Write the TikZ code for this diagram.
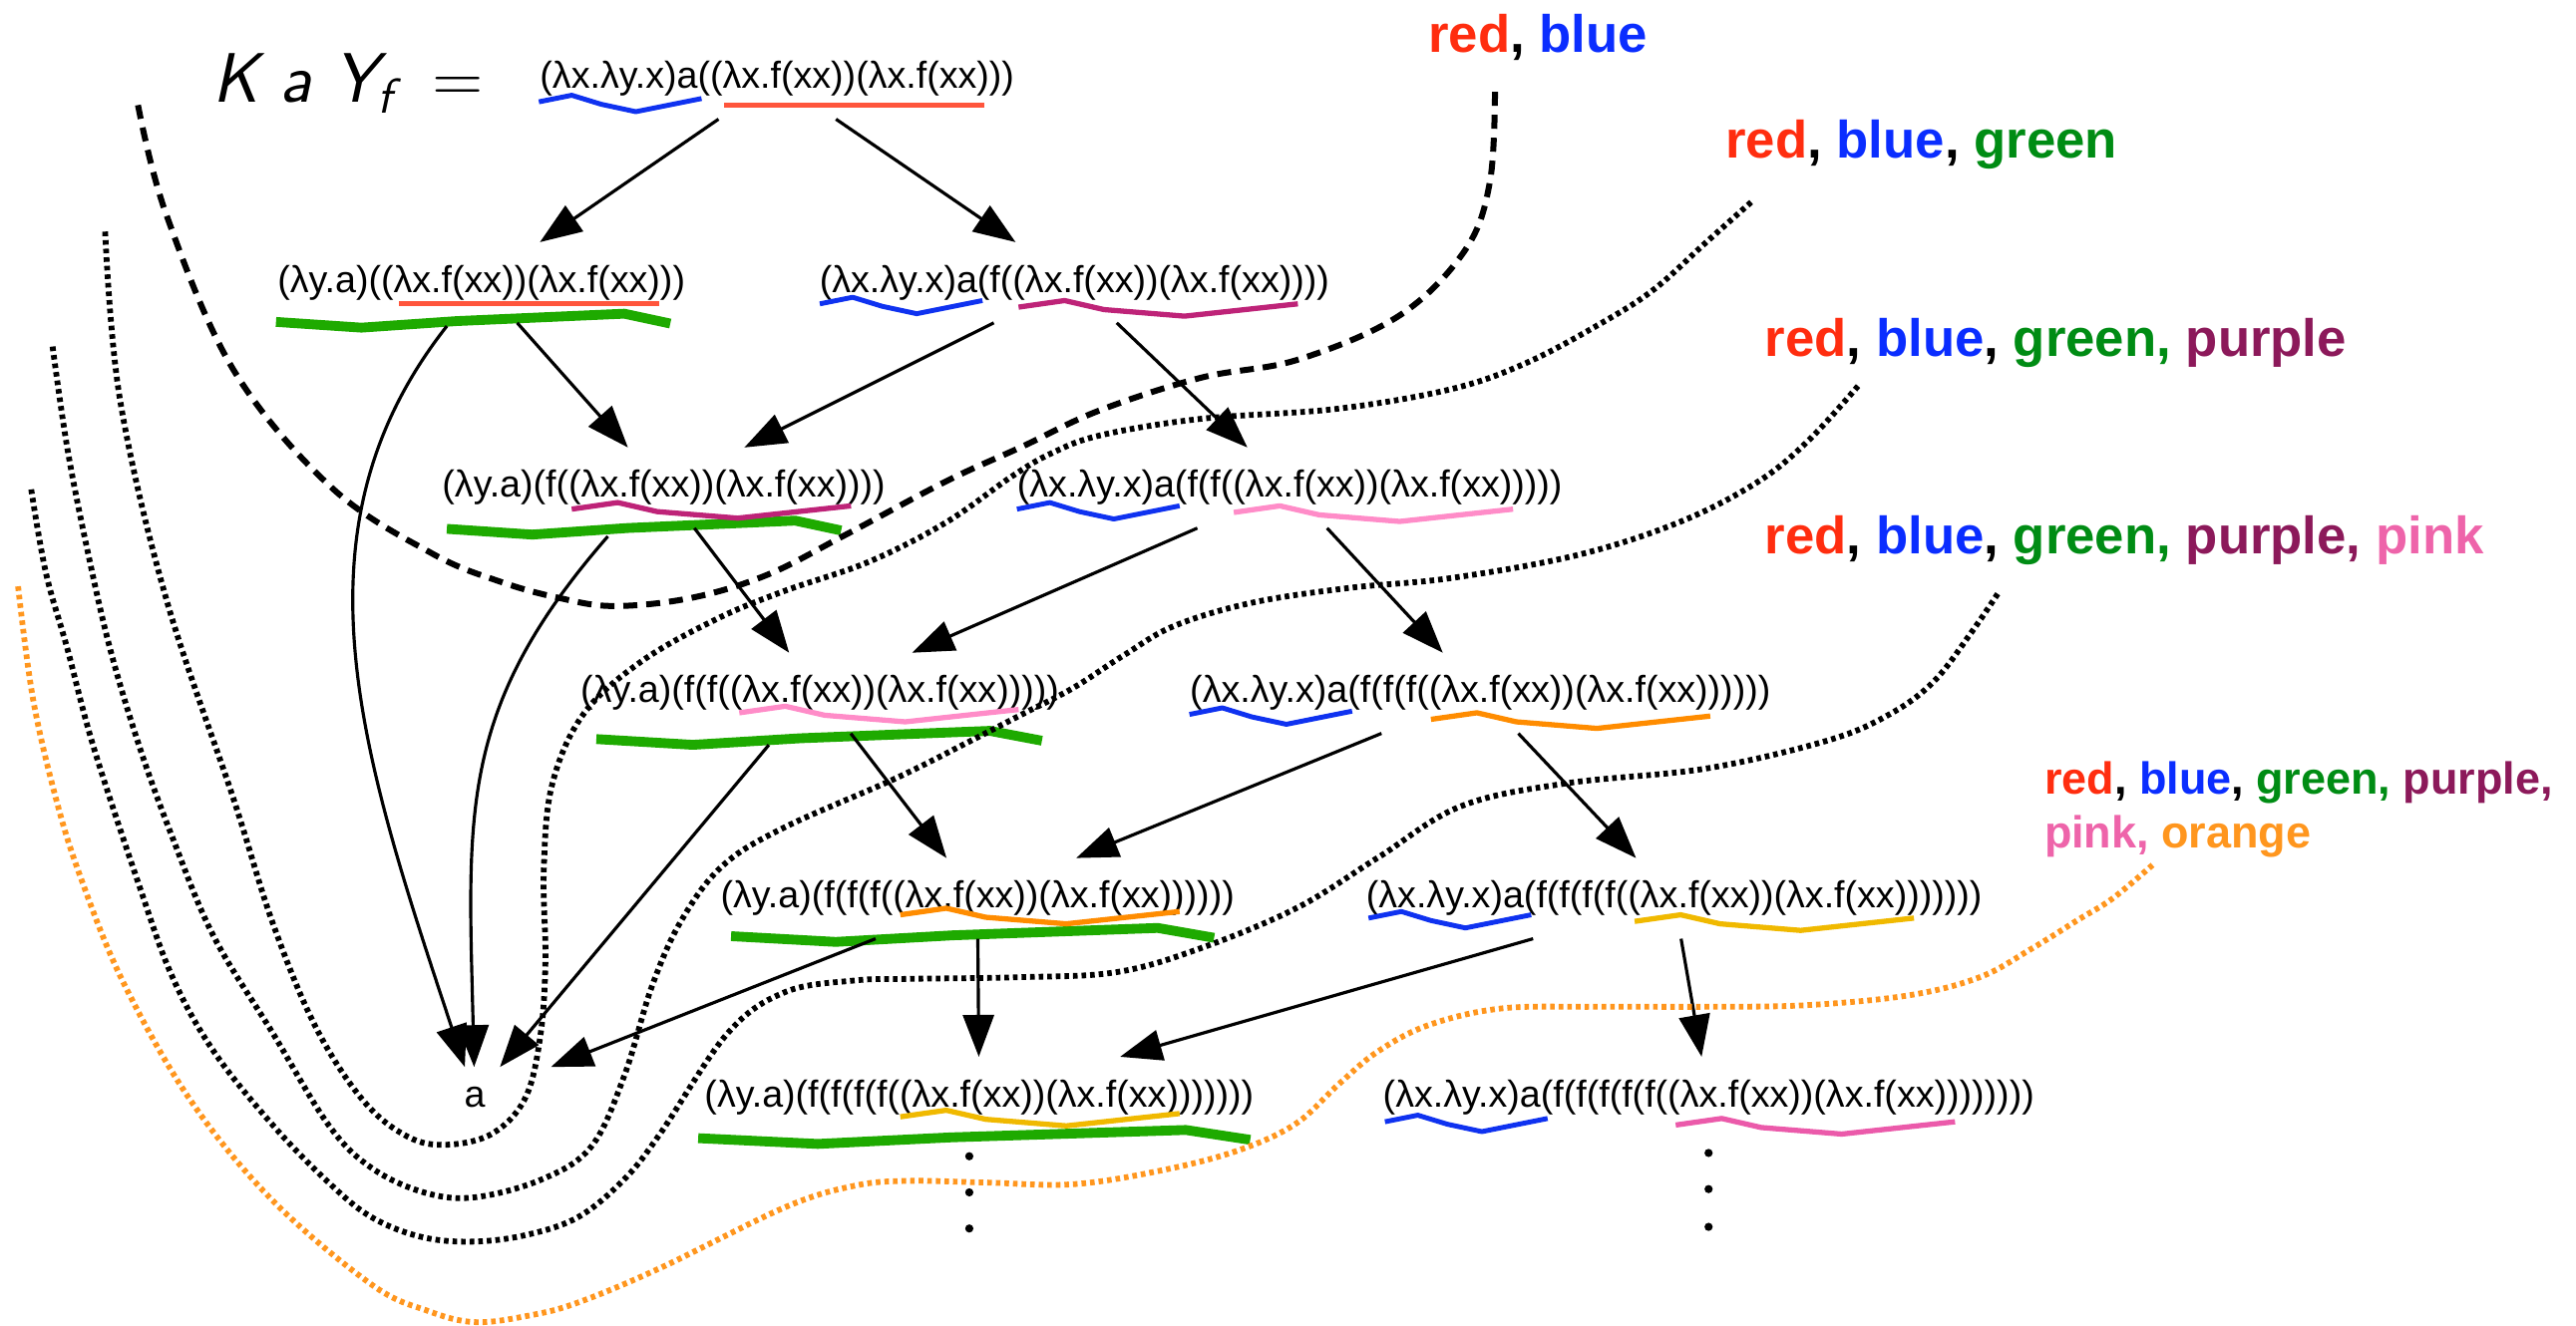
\documentclass[tikz,border=0pt]{standalone}
\usepackage{fontspec}
\setmainfont{Liberation Sans}
\usepackage{tikz}
\usetikzlibrary{arrows.meta,calc}
\definecolor{kred}{RGB}{255,45,15}
\definecolor{kblue}{RGB}{10,45,255}
\definecolor{kgreen}{RGB}{0,140,20}
\definecolor{kpurple}{RGB}{140,25,90}
\definecolor{kpink}{RGB}{238,100,170}
\definecolor{korange}{RGB}{255,150,30}
\definecolor{ulred}{RGB}{255,85,60}
\definecolor{ulblue}{RGB}{15,50,240}
\definecolor{ulgreen}{RGB}{30,170,0}
\definecolor{ulpurple}{RGB}{190,35,120}
\definecolor{ulpink}{RGB}{255,140,200}
\definecolor{ulorange}{RGB}{255,140,0}
\definecolor{ulgold}{RGB}{240,185,0}
\definecolor{ulhotpink}{RGB}{235,90,170}

\begin{document}
\begin{tikzpicture}[x=0.16473mm, y=-0.16473mm,
  term/.style={inner xsep=0.5mm, inner ysep=2.2mm, text height=7.8pt, text depth=2.3pt, font=\fontsize{10.7}{12}\selectfont},
  arr/.style={-{Triangle[length=4.2mm,width=3.1mm]}, line width=0.9pt},
  lab/.style={anchor=base west, inner sep=0pt, font=\fontsize{15}{18}\selectfont\bfseries},
  bounddash/.style={line width=0.6mm, dash pattern=on 1.4mm off 0.9mm},
  bounddot/.style={line width=0.58mm, dash pattern=on 0.46mm off 0.4mm},
  bluewave/.pic={\draw[ulblue, line width=1.4pt, line join=round] (0,0) -- (20,-4) -- (38,1.5) -- (59,6) -- (99,-2);},
  colorwave/.pic={\draw[line width=1.5pt, line join=round] (0,0) -- (28,-4) -- (52,1.5) -- (101,5.5) -- (170,-2);},
  greenbar/.pic={\draw[ulgreen, line width=2.8pt, line join=round] (0,0) -- (52,3.5) -- (110,-0.5) -- (212,-5) -- (240,1);}]
\useasboundingbox (0,0) rectangle (1568,807);

% Title
\node[anchor=base west, inner sep=0pt] (kay) at (129,62)
  {\fontsize{20}{24}\selectfont\sffamily\slshape K a Y\textsubscript{f}\hspace{0.55em}\upshape =};

% Terms
\node[term] (t0) at (473,48) {(λx.λy.x)a((λx.f(xx))(λx.f(xx)))};
\node[term] (l1) at (293,172) {(λy.a)((λx.f(xx))(λx.f(xx)))};
\node[term] (r1) at (654,172) {(λx.λy.x)a(f((λx.f(xx))(λx.f(xx))))};
\node[term] (l2) at (404,297) {(λy.a)(f((λx.f(xx))(λx.f(xx))))};
\node[term] (r2) at (785,297) {(λx.λy.x)a(f(f((λx.f(xx))(λx.f(xx)))))};
\node[term] (l3) at (499,422) {(λy.a)(f(f((λx.f(xx))(λx.f(xx)))))};
\node[term] (r3) at (901,422) {(λx.λy.x)a(f(f(f((λx.f(xx))(λx.f(xx))))))};
\node[term] (l4) at (595,547) {(λy.a)(f(f(f((λx.f(xx))(λx.f(xx))))))};
\node[term] (r4) at (1019,547) {(λx.λy.x)a(f(f(f(f((λx.f(xx))(λx.f(xx)))))))};
\node[term] (l5) at (596,668) {(λy.a)(f(f(f(f((λx.f(xx))(λx.f(xx)))))))};
\node[term] (r5) at (1040,668) {(λx.λy.x)a(f(f(f(f(f((λx.f(xx))(λx.f(xx))))))))};
\node[term, minimum width=17.8mm, minimum height=5.9mm, inner ysep=0pt] (a) at (289,668) {a};

% Underlines
\pic at (328,62) {bluewave};
\pic at (499,185) {bluewave};
\pic at (619,310) {bluewave};
\pic at (724,435) {bluewave};
\pic at (833,559) {bluewave};
\pic at (843,683) {bluewave};
\draw[ulred, line width=1.5pt] (441,64) -- (599,64);
\draw[ulred, line width=1.5pt] (243,185) -- (401,185);
\pic at (168,196) {greenbar};
\pic at (272,322) {greenbar};
\pic[xscale=1.13] at (363,450) {greenbar};
\pic[xscale=1.225] at (445,570) {greenbar};
\pic[xscale=1.4] at (425,693) {greenbar};
\pic[ulpurple] at (620,187) {colorwave};
\pic[ulpurple] at (348,310) {colorwave};
\pic[ulpink] at (751,312) {colorwave};
\pic[ulpink] at (450,434) {colorwave};
\pic[ulorange] at (871,438) {colorwave};
\pic[ulorange] at (548,557) {colorwave};
\pic[ulgold] at (995,561) {colorwave};
\pic[ulgold] at (548,680) {colorwave};
\pic[ulhotpink] at (1020,685) {colorwave};

% Reductions
\draw[arr] (t0) -- (l1);
\draw[arr] (t0) -- (r1);
\draw[arr] (l1) -- (l2);
\draw[arr] (r1) -- (l2);
\draw[arr] (r1) -- (r2);
\draw[arr] (l2) -- (l3);
\draw[arr] (r2) -- (l3);
\draw[arr] (r2) -- (r3);
\draw[arr] (l3) -- (l4);
\draw[arr] (r3) -- (l4);
\draw[arr] (r3) -- (r4);
\draw[arr] (l4) -- (l5);
\draw[arr] (r4) -- (l5);
\draw[arr] (r4) -- (r5);
\draw[arr] ($(l1.south)+(-21,2)$) .. controls (174,323) and (220,460) .. (a);
\draw[arr] ($(l2.south)+(-34,5)$) .. controls (278,432) and (285,496) .. (a);
\draw[arr] ($(l3.south)+(-31,7)$) -- (a);
\draw[arr] (l4) -- (a);

% Dots
\foreach \y in {704,726,748} \fill (590,\y) circle (2.5);
\foreach \y in {702,724,747} \fill (1040,\y) circle (2.5);

% Labels
\node[lab] (labrb) at (869,32) {\color{kred}red\color{black}, \color{kblue}blue};
\node[lab] (labrbg) at (1050,96) {\color{kred}red\color{black}, \color{kblue}blue\color{black}, \color{kgreen}green};
\node[lab] (labrbgp) at (1074,217) {\color{kred}red\color{black}, \color{kblue}blue\color{black}, \color{kgreen}green, \color{kpurple}purple};
\node[lab] (labrbgpp) at (1074,337) {\color{kred}red\color{black}, \color{kblue}blue\color{black}, \color{kgreen}green, \color{kpurple}purple, \color{kpink}pink};
\node[lab, align=left, font=\fontsize{12.8}{15.2}\selectfont\bfseries] (labrbgppo) at (1244,516)
  {\color{kred}red\color{black}, \color{kblue}blue\color{black}, \color{kgreen}green, \color{kpurple}purple,\\
   \color{kpink}pink, \color{korange}orange};

% Boundaries
\draw[bounddash] plot[smooth, tension=0.6] coordinates {(84,64) (101,130) (142,225) (202,297) (263,337) (304,354) (340,364) (374,369) (421,364) (467,350) (514,326) (576,293) (622,272) (669,250) (731,230) (790,219) (852,192) (892,152) (907,110) (910,53)};
\draw[bounddot] plot[smooth, tension=0.6] coordinates {(64,141) (73,243) (101,364) (142,486) (166,562) (192,625) (221,670) (248,692) (272,697) (300,690) (320,668) (329,630) (332,585) (331,530) (336,478) (355,435) (390,403) (436,377) (477,360) (529,342) (576,318) (616,290) (640,276) (670,265) (731,255) (813,249) (883,237) (929,221) (976,196) (1007,176) (1038,148) (1066,123)};
\draw[bounddot] plot[smooth, tension=0.6] coordinates {(32,211) (41,273) (53,334) (67,395) (85,455) (105,510) (130,570) (166,629) (200,685) (226,711) (258,726) (289,729) (330,718) (360,698) (380,655) (397,600) (415,560) (440,527) (477,504) (545,474) (591,451) (622,435) (653,419) (684,399) (715,381) (762,367) (821,358) (883,352) (960,338) (1022,318) (1069,294) (1100,269) (1131,235)};
\draw[bounddot] plot[smooth, tension=0.6] coordinates {(19,298) (28,349) (41,395) (57,455) (85,540) (105,595) (130,640) (166,685) (200,720) (226,741) (256,753) (287,756) (320,752) (352,741) (380,718) (402,690) (443,629) (478,604) (520,597) (553,596) (620,595) (679,592) (729,578) (789,553) (839,522) (889,491) (953,477) (1038,468) (1112,451) (1150,435) (1177,415) (1200,385) (1217,360)};
\draw[bounddot, korange] plot[smooth, tension=0.6] coordinates {(11,357) (20,425) (34,486) (49,534) (75,598) (116,670) (166,731) (226,782) (260,798) (289,805) (322,801) (352,793) (402,772) (478,735) (520,722) (553,719) (600,720) (654,721) (710,712) (755,700) (789,684) (815,660) (839,640) (870,624) (914,614) (970,613) (1038,613) (1100,612) (1162,606) (1205,595) (1236,578) (1265,560) (1286,547) (1311,526)};
\end{tikzpicture}
\end{document}
